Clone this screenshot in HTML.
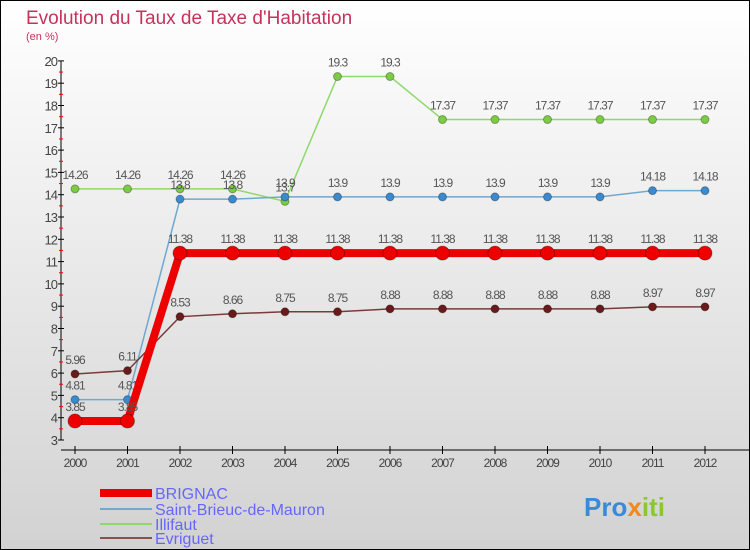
<!DOCTYPE html>
<html><head><meta charset="utf-8"><style>
body{margin:0;}
#c{width:750px;height:550px;position:relative;overflow:hidden;}
svg text{font-family:"Liberation Sans",sans-serif;}
</style></head><body>
<div id="c">
<svg id="s" width="750" height="550" xmlns="http://www.w3.org/2000/svg">
<defs><linearGradient id="bg" x1="0" y1="0" x2="0" y2="1"><stop offset="0" stop-color="#ffffff"/><stop offset="1" stop-color="#d2d2d2"/></linearGradient></defs>
<rect x="0.5" y="0.5" width="749" height="549" fill="url(#bg)" stroke="#000"/>
<text x="26" y="24" font-size="19" fill="#c8325a">Evolution du Taux de Taxe d'Habitation</text>
<text x="26" y="40" font-size="11" fill="#c8325a">(en %)</text>
<g id="axes"></g><g id="series"></g>
<g font-size="16" fill="#6666ff">
<line x1="100" y1="493" x2="152" y2="493" stroke="#ee0000" stroke-width="8"/><text x="155" y="499">BRIGNAC</text>
<line x1="100" y1="509" x2="152" y2="509" stroke="#6fa8d0" stroke-width="2"/><text x="155" y="515">Saint-Brieuc-de-Mauron</text>
<line x1="100" y1="524" x2="152" y2="524" stroke="#8fd86a" stroke-width="2"/><text x="155" y="530">Illifaut</text>
<line x1="100" y1="538" x2="152" y2="538" stroke="#8a5050" stroke-width="2"/><text x="155" y="544">Evriguet</text>
</g>
<text x="584" y="516" font-size="26" font-weight="bold"><tspan fill="#3a8ad8">Pro</tspan><tspan fill="#f08a20">x</tspan><tspan fill="#8ac830">iti</tspan></text>
</svg></div>
<script>
const years=[2000,2001,2002,2003,2004,2005,2006,2007,2008,2009,2010,2011,2012];
const brignac=[3.85,3.85,11.38,11.38,11.38,11.38,11.38,11.38,11.38,11.38,11.38,11.38,11.38];
const stbrieuc=[4.81,4.81,13.8,13.8,13.9,13.9,13.9,13.9,13.9,13.9,13.9,14.18,14.18];
const illifaut=[14.26,14.26,14.26,14.26,13.7,19.3,19.3,17.37,17.37,17.37,17.37,17.37,17.37];
const evriguet=[5.96,6.11,8.53,8.66,8.75,8.75,8.88,8.88,8.88,8.88,8.88,8.97,8.97];
const yTicks=[3,4,5,6,7,8,9,10,11,12,13,14,15,16,17,18,19,20];
const NS="http://www.w3.org/2000/svg";
const X=i=>75+i*52.5, Y=v=>440-(v-3)*22.3;
function mk(t,a,p){const e=document.createElementNS(NS,t);for(const k in a)e.setAttribute(k,a[k]);p.appendChild(e);return e;}
const ax=document.getElementById('axes');
const ya=mk('line',{x1:61,y1:Y(20),x2:61,y2:Y(3),stroke:'#000'},ax);


const xa=mk('line',{x1:61,y1:450,x2:750,y2:450,stroke:'#000'},ax);


yTicks.forEach(v=>{mk('line',{x1:58,y1:Y(v),x2:64,y2:Y(v),stroke:'#000'},ax);
 if(v<20)mk('line',{x1:59,y1:Y(v+0.5),x2:63,y2:Y(v+0.5),stroke:'#f00'},ax);
 const t=mk('text',{x:57,y:Y(v)+5,'font-size':13,'text-anchor':'end',fill:'#444','letter-spacing':'-1'},ax);t.textContent=v;
 
 });
years.forEach((y,i)=>{mk('line',{x1:X(i),y1:446,x2:X(i),y2:454,stroke:'#000'},ax);
 const t=mk('text',{x:X(i),y:467,'font-size':12,'text-anchor':'middle',fill:'#444','letter-spacing':'-1'},ax);t.textContent=y;
 
 });
const sg=document.getElementById('series');
function draw(vals,name,col,w,r,dot){
 const g=mk('g',{},sg);
 
 
 mk('polyline',{points:vals.map((v,i)=>X(i)+','+Y(v)).join(' '),fill:'none',stroke:col,'stroke-width':w},g);
 vals.forEach((v,i)=>{const c=mk('circle',{cx:X(i),cy:Y(v),r:r,fill:dot,stroke:'rgba(0,0,0,0.3)'},g);
  
  
  const t=mk('text',{x:X(i),y:Y(v)-10,'font-size':12,'text-anchor':'middle',fill:'#555','letter-spacing':'-1'},g);t.textContent=v;});
}
draw(illifaut,'series-illifaut','#8fd86a',1.5,4,'#7acc40');
draw(stbrieuc,'series-saint-brieuc','#6fa8d0',1.5,4,'#3a8ad0');
draw(evriguet,'series-evriguet','#7a3a3a',1.5,4,'#6a1a1a');
draw(brignac,'series-brignac','#ee0000',8,7,'#ee0000');
</script>
</body></html>
